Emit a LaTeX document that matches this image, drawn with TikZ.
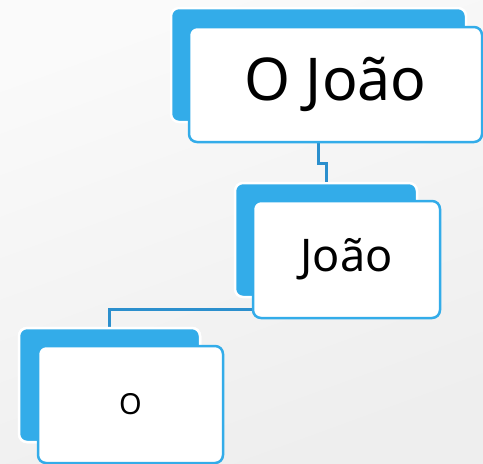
\documentclass[tikz,border=0pt]{standalone}
\usepackage{fontspec}
\setmainfont{Noto Sans}
\definecolor{boxblue}{HTML}{33ACE9}
\definecolor{lineblue}{HTML}{2B8FCD}
\definecolor{bgtop}{HTML}{FAFAFA}
\definecolor{bgbot}{HTML}{EEEEEE}
\tikzset{
  backbox/.style={draw=white, line width=2.5pt, fill=boxblue, rounded corners=8pt, inner sep=0pt},
  frontbox/.style={draw=boxblue, line width=2.5pt, fill=white, rounded corners=8pt, inner sep=0pt, text=black},
  link/.style={draw=lineblue, line width=3pt}
}
\begin{document}
\begin{tikzpicture}[x=1pt,y=-1pt]
\shade[top color=bgtop, bottom color=bgbot, shading angle=20] (0,0) rectangle (483,464);
\useasboundingbox (0,0) rectangle (483,464);
% back boxes
\node[backbox, minimum width=295pt, minimum height=114pt] (b1) at (318.5,65) {};
\node[backbox, minimum width=182pt, minimum height=114pt] (b2) at (326,240) {};
\node[backbox, minimum width=181pt, minimum height=114pt] (b3) at (109.5,385) {};
\coordinate (j1) at (326,163);
\coordinate (j2) at (109,309);
% connectors
\draw[link] (b1.south) |- (j1) -- (b2.north);
% front boxes
\node[frontbox, minimum width=293pt, minimum height=115pt, font=\fontsize{59}{62}\selectfont] (f1) at (335.5,84.5) {O João};
\node[frontbox, minimum width=187pt, minimum height=117pt, font=\fontsize{45}{48}\selectfont] (f2) at (346.5,259.5) {João};
\draw[link] (f2.west |- j2) -| (b3.north);
\node[backbox, minimum width=181pt, minimum height=114pt] at (b3) {};
\node[frontbox, minimum width=185pt, minimum height=117pt, font=\fontsize{29}{32}\selectfont] (f3) at (130.5,404.5) {O};
\end{tikzpicture}
\end{document}
